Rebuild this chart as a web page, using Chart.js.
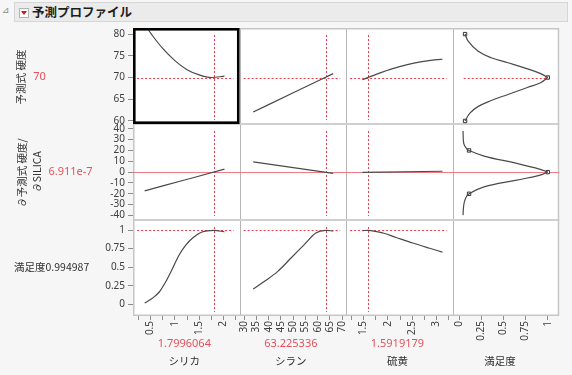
<!DOCTYPE html>
<html>
<head>
<meta charset="utf-8">
<script src="https://cdn.jsdelivr.net/npm/chart.js@4.4.1/dist/chart.umd.min.js"></script>
<style>
  html, body { margin: 0; padding: 0; background: #f6f6f6; }
  #wrap { position: relative; width: 572px; height: 375px; overflow: hidden; }
  #bar { position: absolute; left: 14px; top: 2px; width: 552px; height: 18px; background: #ebebeb; border: 1px solid #d6d6d6; }
  #disc { position: absolute; left: 2px; top: 5px; font-size: 9px; color: #8a8a8a; font-family: 'DejaVu Sans', sans-serif; }
  #btn { position: absolute; left: 4px; top: 5px; width: 8px; height: 8px; background: #fff; border: 1px solid #b4b4b4; }
  #btn:after { content: ''; position: absolute; left: 1px; top: 2px; border-left: 3px solid transparent; border-right: 3px solid transparent; border-top: 4px solid #d01818; }
  #title { position: absolute; left: 17px; top: 0px; font-size: 12.5px; line-height: 18px; font-weight: bold; color: #1e1e1e; font-family: 'Noto Sans CJK JP', sans-serif; }
  canvas { position: absolute; left: 0; top: 0; }
</style>
</head>
<body>
<div id="wrap">
  <div id="disc">⊿</div>
  <div id="bar"><div id="btn"></div><div id="title">予測プロファイル</div></div>
  <canvas id="myChart" width="572" height="375"></canvas>
</div>
<script>
// factor settings (columns) and response rows
const factorNames = ['シリカ', 'シラン', '硫黄', '満足度'];
const factorSetting = [1.7996064, 63.225336, 1.5919179];
const factorSettingText = ['1.7996064', '63.225336', '1.5919179'];
const responseSetting = [70, 6.911e-7, 0.994987];
const responseSettingText = ['70', '6.911e-7', '0.994987'];

// row 1: 予測式 硬度
const silicaX = [0.38, 0.55, 0.75, 1.0, 1.25, 1.5, 1.75, 2.02];
const hardBySilica = [82.2, 79.5, 76.7, 73.9, 71.8, 70.6, 70.0, 70.3];
const silaneX = [33.67, 50, 66.33];
const hardBySilane = [62.05, 66.5, 70.9];
const sulfurX = [1.48, 1.8, 2.1, 2.4, 2.7, 3.0, 3.12];
const hardBySulfur = [69.5, 70.9, 72.05, 72.95, 73.65, 74.1, 74.2];
const hardDesirUpperD = [0.065, 0.10, 0.21, 0.36, 0.55, 0.77, 0.92, 1.0];
const hardDesirUpperH = [80, 78.4, 76.1, 74.55, 73.4, 72.0, 70.9, 70];
const hardDesirLowerD = [1.0, 0.92, 0.77, 0.55, 0.36, 0.21, 0.12, 0.065];
const hardDesirLowerH = [70, 68.8, 67.7, 66.1, 64.7, 63.3, 61.8, 60];
const hardMarkD = [0.065, 1, 0.065];
const hardMarkH = [80, 70, 60];

// row 2: ∂予測式 硬度/∂SILICA
const derivSilicaX = [0.38, 1.2, 2.02];
const derivBySilica = [-17.3, -7.3, 2.7];
const derivSilaneX = [33.67, 66.33];
const derivBySilane = [9.4, -1.1];
const derivSulfurX = [1.48, 3.12];
const derivBySulfur = [-0.2, 0.8];
const derivDesirUpperD = [0.042, 0.05, 0.08, 0.11, 0.28, 0.65, 0.915, 1.0];
const derivDesirUpperV = [38, 26.5, 22, 20, 14.8, 8, 2.5, 0];
const derivDesirLowerD = [1.0, 0.915, 0.65, 0.28, 0.11, 0.07, 0.05, 0.042];
const derivDesirLowerV = [0, -2.8, -7.4, -13.6, -20, -24.3, -30.4, -39.7];
const derivMarkD = [0.11, 1, 0.11];
const derivMarkV = [20, 0, -20];

// row 3: 満足度
const desirSilicaX = [0.38, 0.545, 0.68, 0.81, 0.95, 1.085, 1.22, 1.39, 1.556, 1.8, 2.02];
const desirBySilica = [0.017, 0.085, 0.166, 0.30, 0.48, 0.66, 0.794, 0.906, 0.973, 0.995, 0.975];
const desirSilaneX = [33.67, 38.3, 43.7, 49.1, 54.4, 59.2, 63.2, 66.33];
const desirBySilane = [0.206, 0.31, 0.444, 0.623, 0.80, 0.96, 0.995, 0.987];
const desirSulfurX = [1.48, 1.59, 1.9, 2.17, 2.51, 2.84, 3.12];
const desirBySulfur = [0.993, 0.995, 0.96, 0.90, 0.825, 0.758, 0.703];

const font = "'Noto Sans', 'Noto Sans CJK JP', sans-serif";
const red = '#e8505c';
const ink = '#404040';

const pts = (xs, ys) => xs.map((x, i) => ({ x: x, y: ys[i] }));

function curve(xs, ys, xAxisID, yAxisID, mono) {
    return {
        data: pts(xs, ys),
        xAxisID: xAxisID,
        yAxisID: yAxisID,
        borderColor: '#4a4a4a',
        borderWidth: 1.2,
        pointRadius: 0,
        fill: false,
        cubicInterpolationMode: mono ? 'monotone' : 'default',
        tension: mono ? 0 : 0.4
    };
}

function marks(xs, ys, yAxisID) {
    return {
        data: pts(xs, ys),
        xAxisID: 'x3',
        yAxisID: yAxisID,
        showLine: false,
        pointStyle: 'rect',
        pointRadius: 2.4,
        pointBackgroundColor: '#fff',
        pointBorderColor: '#333',
        pointBorderWidth: 1
    };
}

const halfOnly = v => Math.abs(v * 2 - Math.round(v * 2)) < 1e-6 ? String(+v.toFixed(2)) : '';
const plain = v => String(+Number(v).toFixed(2));

function xAxis(min, max, step, cb) {
    return {
        type: 'linear', position: 'bottom', stack: 'cols', stackWeight: 1,
        min: min, max: max,
        ticks: { stepSize: step, includeBounds: false, autoSkip: false, minRotation: 90, maxRotation: 90,
                 padding: 1, color: ink, font: { family: font, size: 10 }, callback: cb },
        grid: { drawOnChartArea: false, tickLength: 4, color: '#8c8c8c' },
        border: { display: false },
        afterFit: s => { s.height = 59; }
    };
}

function yAxis(min, max, step, weight) {
    return {
        type: 'linear', position: 'left', stack: 'rows', stackWeight: 1, weight: weight,
        min: min, max: max,
        ticks: { stepSize: step, includeBounds: false, autoSkip: false, padding: 3, color: ink,
                 font: { family: font, size: 10 }, callback: plain },
        grid: { drawOnChartArea: false, tickLength: 5, color: '#8c8c8c' },
        border: { display: false },
        afterFit: s => { s.width = 33; }
    };
}

function hline(ctx, x1, x2, y) {
    ctx.beginPath(); ctx.moveTo(x1, y); ctx.lineTo(x2, y); ctx.stroke();
}
function vline(ctx, x, y1, y2) {
    ctx.beginPath(); ctx.moveTo(x, y1); ctx.lineTo(x, y2); ctx.stroke();
}
function rotText(ctx, text, x, y) {
    ctx.save(); ctx.translate(x, y); ctx.rotate(-Math.PI / 2); ctx.fillText(text, 0, 0); ctx.restore();
}

const profiler = {
    id: 'profiler',
    beforeDatasetsDraw(chart) {
        const ctx = chart.ctx, a = chart.chartArea;
        const xs = ['x0', 'x1', 'x2', 'x3'].map(id => chart.scales[id]);
        const ys = ['y0', 'y1', 'y2'].map(id => chart.scales[id]);
        ctx.save();
        ctx.fillStyle = '#fff';
        ctx.fillRect(a.left, a.top, a.right - a.left, a.bottom - a.top);
        // panel separators
        ctx.strokeStyle = '#b6b6b6'; ctx.lineWidth = 1;
        for (let c = 1; c < 4; c++) vline(ctx, Math.round(xs[c].left) + 0.5, a.top, a.bottom);
        ctx.strokeStyle = '#d0d0d0'; ctx.lineWidth = 2;
        for (let r = 1; r < 3; r++) hline(ctx, a.left, a.right, Math.round(ys[r].top));
        ctx.strokeStyle = '#c6c6c6'; ctx.lineWidth = 1.5;
        ctx.strokeRect(a.left + 0.75, a.top + 0.75, a.right - a.left - 1.5, a.bottom - a.top - 1.5);

        // row 2 zero line
        ctx.strokeStyle = 'rgba(240,100,110,0.85)'; ctx.lineWidth = 1;
        hline(ctx, a.left, a.right, Math.round(ys[1].getPixelForValue(responseSetting[1])) + 0.5);

        // current settings, dotted
        ctx.strokeStyle = '#f03c4c'; ctx.setLineDash([2, 2]);
        for (let c = 0; c < 3; c++) {
            const px = Math.round(xs[c].getPixelForValue(factorSetting[c])) + 0.5;
            for (let r = 0; r < 3; r++) vline(ctx, px, ys[r].top + 7, ys[r].bottom - 4);
        }
        for (const r of [0, 2]) {
            const py = Math.round(ys[r].getPixelForValue(responseSetting[r])) + 0.5;
            for (let c = 0; c < 3; c++) hline(ctx, xs[c].left + 4, xs[c].right - 6, py);
        }
        const py0 = Math.round(ys[0].getPixelForValue(responseSetting[0])) + 0.5;
        hline(ctx, xs[3].left + 11, xs[3].getPixelForValue(1), py0);
        ctx.restore();
    },
    afterDatasetsDraw(chart) {
        const ctx = chart.ctx, x0 = chart.scales.x0, y0 = chart.scales.y0;
        ctx.save();
        ctx.strokeStyle = '#000'; ctx.lineWidth = 2.6;
        ctx.strokeRect(x0.left + 1.3, y0.top + 1.3, x0.right - x0.left - 2.6, y0.bottom - y0.top - 2.6);
        ctx.restore();
    },
    afterDraw(chart) {
        const ctx = chart.ctx;
        const xs = ['x0', 'x1', 'x2', 'x3'].map(id => chart.scales[id]);
        const ys = ['y0', 'y1', 'y2'].map(id => chart.scales[id]);
        const cy = ys.map(s => (s.top + s.bottom) / 2);
        ctx.save();
        ctx.textAlign = 'center'; ctx.textBaseline = 'middle';
        // row labels
        ctx.fillStyle = '#303030';
        ctx.font = "10.5px 'Noto Sans CJK JP', sans-serif";
        rotText(ctx, '予測式 硬度', 21, cy[0] + 1);
        rotText(ctx, '∂予測式 硬度/', 22, cy[1] + 1);
        rotText(ctx, '∂SILICA', 37.5, cy[1]);
        ctx.textAlign = 'left';
        ctx.fillText('満足度' + responseSettingText[2], 14, cy[2] - 1);
        ctx.textAlign = 'center';
        ctx.fillStyle = red;
        ctx.font = '11px ' + font;
        ctx.fillText(responseSettingText[0], 39.5, cy[0] + 1);
        ctx.fillText(responseSettingText[1], 70.5, cy[1]);
        // column labels
        for (let c = 0; c < 4; c++) {
            const cx = (xs[c].left + xs[c].right) / 2 - 2;
            if (c < 3) {
                ctx.fillStyle = red;
                ctx.font = '11px ' + font;
                ctx.fillText(factorSettingText[c], cx, 344);
            }
            ctx.fillStyle = '#303030';
            ctx.font = "10.5px 'Noto Sans CJK JP', sans-serif";
            ctx.fillText(factorNames[c], c === 3 ? cx - 4 : cx, 361);
        }
        ctx.restore();
    }
};

var ctx = document.getElementById('myChart').getContext('2d');
var chart = new Chart(ctx, {
    type: 'line',
    data: {
        datasets: [
            curve(silicaX, hardBySilica, 'x0', 'y0', true),
            curve(silaneX, hardBySilane, 'x1', 'y0', true),
            curve(sulfurX, hardBySulfur, 'x2', 'y0', true),
            curve(hardDesirUpperD, hardDesirUpperH, 'x3', 'y0', false),
            curve(hardDesirLowerD, hardDesirLowerH, 'x3', 'y0', false),
            marks(hardMarkD, hardMarkH, 'y0'),
            curve(derivSilicaX, derivBySilica, 'x0', 'y1', true),
            curve(derivSilaneX, derivBySilane, 'x1', 'y1', true),
            curve(derivSulfurX, derivBySulfur, 'x2', 'y1', true),
            curve(derivDesirUpperD, derivDesirUpperV, 'x3', 'y1', false),
            curve(derivDesirLowerD, derivDesirLowerV, 'x3', 'y1', false),
            marks(derivMarkD, derivMarkV, 'y1'),
            curve(desirSilicaX, desirBySilica, 'x0', 'y2', true),
            curve(desirSilaneX, desirBySilane, 'x1', 'y2', true),
            curve(desirSulfurX, desirBySulfur, 'x2', 'y2', true)
        ]
    },
    options: {
        responsive: false,
        animation: false,
        layout: { padding: { left: 100, top: 28, right: 6, bottom: 0 } },
        plugins: { legend: { display: false }, tooltip: { enabled: false } },
        scales: {
            x0: xAxis(0.14, 2.33, 0.25, halfOnly),
            x1: xAxis(28.1, 71.6, 5, plain),
            x2: xAxis(1.145, 3.33, 0.25, halfOnly),
            x3: xAxis(-0.075, 1.13, 0.25, plain),
            y0: yAxis(59.3, 81.4, 5, 3),
            y1: yAxis(-44.2, 44.4, 10, 2),
            y2: yAxis(-0.157, 1.135, 0.25, 1)
        }
    },
    plugins: [profiler]
});
</script>
</body>
</html>
